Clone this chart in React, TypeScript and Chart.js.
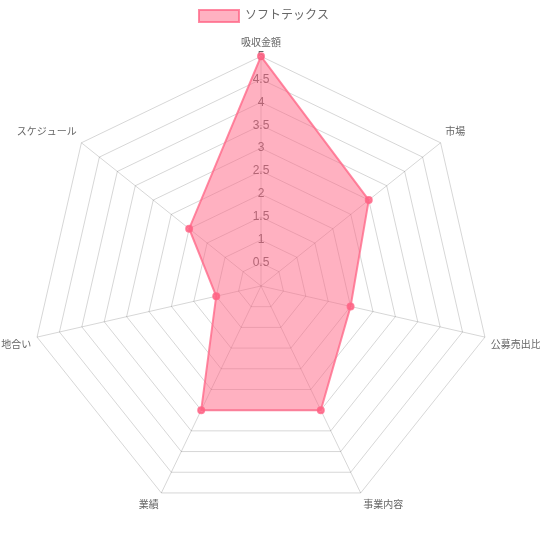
import React, { useEffect, useRef } from "react";
import { Chart, registerables } from "chart.js";

Chart.register(...registerables);

const labels = ["吸収金額", "市場", "公募売出比", "事業内容", "業績", "地合い", "スケジュール"];
const seriesName = "ソフトテックス";
const values = [5, 3, 2, 3, 3, 1, 2];
const scaleMin = 0;
const scaleMax = 5;
const scaleStep = 0.5;

const FONT = "'Liberation Sans', 'Noto Sans CJK JP', sans-serif";

export default function App() {
  const ref = useRef<HTMLCanvasElement | null>(null);
  useEffect(() => {
    if (!ref.current) return;
    const chart = new Chart(ref.current, {
      type: "radar",
      data: {
        labels,
        datasets: [
          {
            label: seriesName,
            data: values,
            backgroundColor: "rgba(255,99,132,0.5)",
            borderColor: "rgba(255,99,132,0.75)",
            borderWidth: 2,
            pointBackgroundColor: "rgba(255,99,132,0.8)",
            pointBorderColor: "rgba(255,99,132,0.8)",
            pointRadius: 3,
          },
        ],
      },
      options: {
        animation: false,
        responsive: true,
        maintainAspectRatio: false,
        plugins: {
          legend: {
            labels: {
              padding: 2,
              boxWidth: 40,
              font: { family: FONT, size: 12 },
              color: "#666",
            },
          },
        },
        scales: {
          r: {
            min: scaleMin,
            max: scaleMax,
            grid: { color: "rgba(0,0,0,0.16)" },
            angleLines: { color: "rgba(0,0,0,0.16)" },
            ticks: {
              stepSize: scaleStep,
              showLabelBackdrop: false,
              color: "#666",
              font: { family: FONT, size: 12 },
              callback: (v: any) => String(v),
            },
            pointLabels: {
              padding: -2,
              color: "#666",
              font: { family: FONT, size: 10, lineHeight: 1.33 },
            },
          },
        },
      },
    });
    return () => chart.destroy();
  }, []);
  return (
    <div style={{ position: "fixed", left: 0, top: 0, width: 540, height: 540, overflow: "hidden" }}>
      <div style={{ position: "absolute", left: -22, top: 8, width: 572, height: 522 }}>
        <canvas ref={ref} />
      </div>
    </div>
  );
}
